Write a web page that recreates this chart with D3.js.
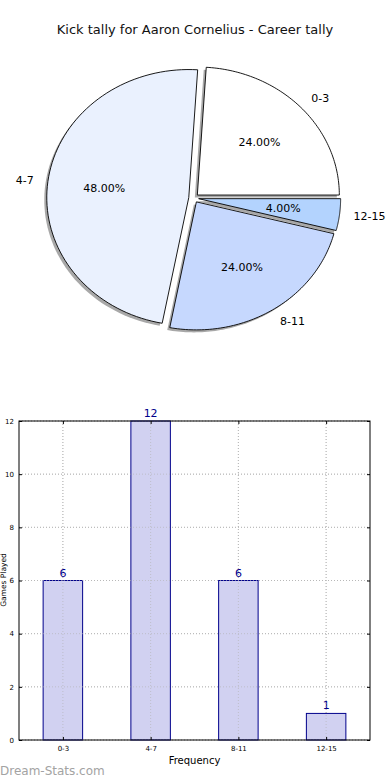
<!DOCTYPE html>
<html><head><meta charset="utf-8">
<script src="https://cdn.jsdelivr.net/npm/d3@7"></script>
<style>body{margin:0;background:#fff}svg{display:block;font-family:"DejaVu Sans",sans-serif}</style>
</head><body><svg id="c" width="390" height="780"></svg>
<script>
const categories = ["0-3","4-7","8-11","12-15"];
const counts = [6,12,6,1];
const pieColors = ["#ffffff","#eaf1fe","#c6d8fe","#b3d3fe"];
const yTicks = [0,2,4,6,8,10,12];
const title = "Kick tally for Aaron Cornelius - Career tally";

const svg = d3.select("#c");
svg.append("text").attr("x",195).attr("y",34).attr("text-anchor","middle")
  .attr("font-size",13).attr("fill","#111").text(title);

const cx = 193.7, cy = 198.1, rx = 142, ry = 128, explode = 0.035;
const total = d3.sum(counts);
const pieGen = d3.pie().sort(null).value(d=>d)
  .startAngle(Math.PI/2).endAngle(Math.PI/2 - 2*Math.PI);
const arcs = pieGen(counts);
function pathFor(a, dx, dy){
  const a0 = Math.PI/2 - a.startAngle, a1 = Math.PI/2 - a.endAngle;
  const lo = Math.min(a0,a1), hi = Math.max(a0,a1);
  const n = 80, pts = [[0,0]];
  for(let i=0;i<=n;i++){const t=lo+(hi-lo)*i/n; pts.push([Math.cos(t), Math.sin(t)]);}
  const mid = (lo+hi)/2;
  const ox = cx + explode*rx*Math.cos(mid) + dx, oy = cy - explode*ry*Math.sin(mid) + dy;
  return {d: d3.line()(pts.map(p=>[ox+p[0]*rx, oy-p[1]*ry])) + "Z", mid, ox, oy};
}
const pg = svg.append("g");
arcs.forEach((a,i)=>{
  const s = pathFor(a,-2.5,2.5);
  pg.append("path").attr("d",s.d).attr("fill","#7a7a7a").attr("opacity",0.65);
});
arcs.forEach((a,i)=>{
  const s = pathFor(a,0,0);
  pg.append("path").attr("d",s.d).attr("fill",pieColors[i]).attr("stroke","#000").attr("stroke-width",0.9).attr("stroke-linejoin","miter");
  const c = Math.cos(s.mid), sn = Math.sin(s.mid);
  pg.append("text").attr("x",s.ox+1.1*rx*c).attr("y",s.oy-1.1*ry*sn).attr("dy","0.35em")
    .attr("text-anchor", c>=0?"start":"end").attr("font-size",11).attr("fill","#000").text(categories[i]);
  pg.append("text").attr("x",s.ox+0.6*rx*c).attr("y",s.oy-0.6*ry*sn).attr("dy","0.35em")
    .attr("text-anchor","middle").attr("font-size",11).attr("fill","#000")
    .text((counts[i]/total*100).toFixed(2)+"%");
});

const L=19, R=370, T=421, B=740;
const x = d3.scaleLinear().domain([-0.5,3.5]).range([L,R]);
const y = d3.scaleLinear().domain([0,12]).range([B,T]);
const bw = 0.45;
const bg = svg.append("g");
function grid(op){
  yTicks.forEach(t=>{
    bg.append("line").attr("x1",L).attr("x2",R).attr("y1",y(t)).attr("y2",y(t))
      .attr("stroke","#b8b8b8").attr("stroke-opacity",op).attr("stroke-width",1).attr("stroke-dasharray","1,2");
  });
  categories.forEach((c,i)=>{
    bg.append("line").attr("x1",x(i)).attr("x2",x(i)).attr("y1",T).attr("y2",B)
      .attr("stroke","#b8b8b8").attr("stroke-opacity",op).attr("stroke-width",1).attr("stroke-dasharray","1,2");
  });
}
grid(1);
categories.forEach((c,i)=>{
  bg.append("rect").attr("x",x(i-bw/2)).attr("y",y(counts[i]))
    .attr("width",x(i+bw/2)-x(i-bw/2)).attr("height",y(0)-y(counts[i]))
    .attr("fill","#ccccf0").attr("fill-opacity",0.9).attr("stroke","#00008b").attr("stroke-width",1);
  bg.append("text").attr("x",x(i)).attr("y",y(counts[i])-4).attr("text-anchor","middle")
    .attr("font-size",11).attr("fill","#00008b").text(counts[i]);
});
grid(0.6);
bg.append("rect").attr("x",L).attr("y",T).attr("width",R-L).attr("height",B-T)
  .attr("fill","none").attr("stroke","#000").attr("stroke-width",1);
const yAx = bg.append("g").attr("transform",`translate(${L},0)`)
  .call(d3.axisLeft(y).tickValues(yTicks).tickSize(-3).tickPadding(5).tickFormat(d3.format("d")));
yAx.select(".domain").remove();
yAx.selectAll("text").attr("font-size",7).attr("font-family","DejaVu Sans").attr("fill","#000");
const yAxR = bg.append("g").attr("transform",`translate(${R},0)`)
  .call(d3.axisRight(y).tickValues(yTicks).tickSize(-3).tickFormat(""));
yAxR.select(".domain").remove();
const xAx = bg.append("g").attr("transform",`translate(0,${B})`)
  .call(d3.axisBottom(x).tickValues(d3.range(categories.length)).tickSize(-3).tickPadding(6).tickFormat(i=>categories[i]));
xAx.select(".domain").remove();
xAx.selectAll("text").attr("font-size",7).attr("font-family","DejaVu Sans").attr("fill","#000");
const xAxT = bg.append("g").attr("transform",`translate(0,${T})`)
  .call(d3.axisTop(x).tickValues(d3.range(categories.length)).tickSize(-3).tickFormat(""));
xAxT.select(".domain").remove();
svg.selectAll(".tick line").attr("stroke","#000");

svg.append("text").attr("x",194.5).attr("y",764).attr("text-anchor","middle")
  .attr("font-size",10).attr("fill","#000").text("Frequency");
svg.append("text").attr("transform","translate(6,580) rotate(-90)").attr("text-anchor","middle")
  .attr("font-size",7.5).attr("fill","#000").text("Games Played");
svg.append("text").attr("x",0).attr("y",775).attr("font-size",12)
  .attr("fill","#a3a3a3").text("Dream-Stats.com");
</script></body></html>
